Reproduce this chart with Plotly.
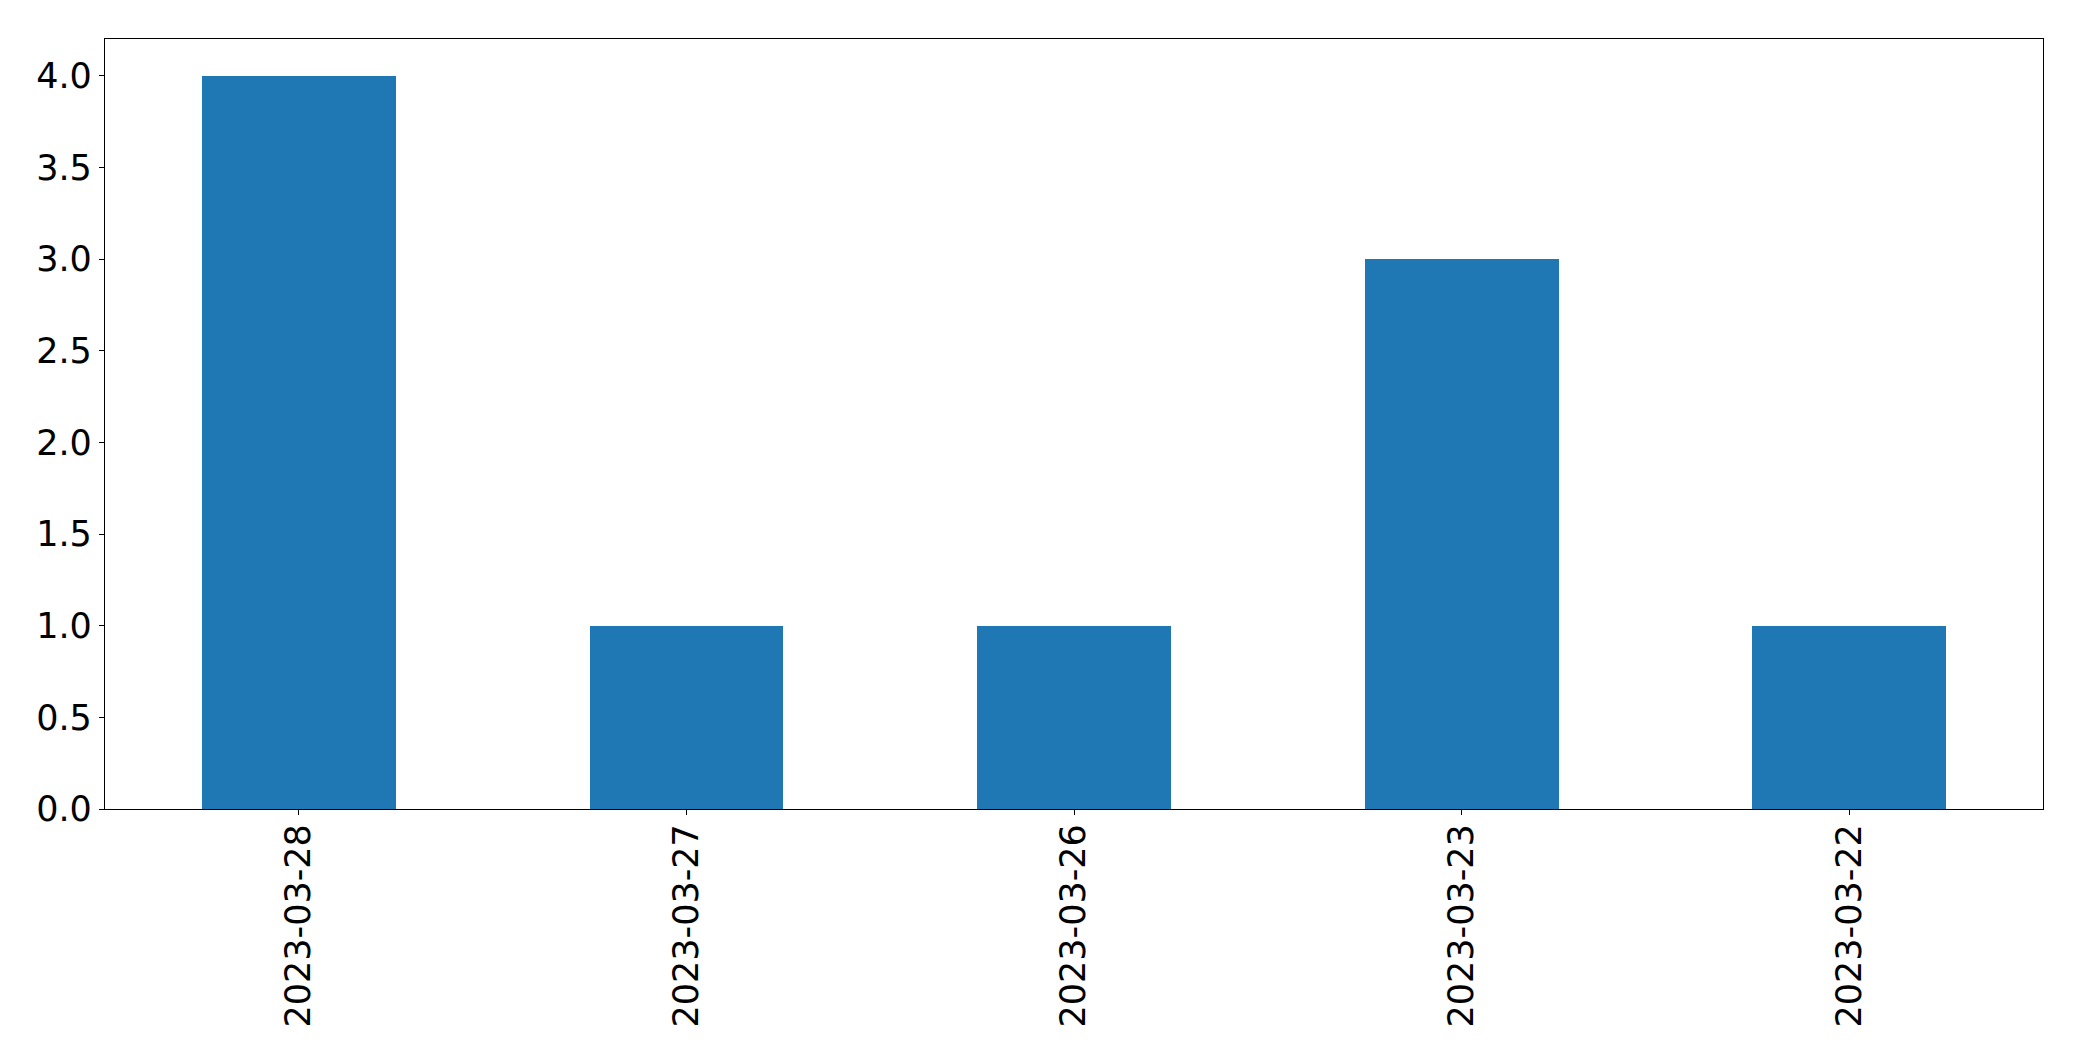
import plotly.graph_objects as go

categories = ["2023-03-28", "2023-03-27", "2023-03-26", "2023-03-23", "2023-03-22"]
values = [4, 1, 1, 3, 1]
y_ticks = [0.0, 0.5, 1.0, 1.5, 2.0, 2.5, 3.0, 3.5, 4.0]

fig = go.Figure(go.Bar(
    x=categories, y=values, width=0.5,
    marker=dict(color="#1f77b4", line=dict(width=0)),
))

fig.update_layout(
    width=2074, height=1053,
    margin=dict(l=97, r=39, t=31, b=252, pad=0),
    paper_bgcolor="white", plot_bgcolor="white",
    font=dict(family="DejaVu Sans", size=35, color="black"),
    showlegend=False,
    bargap=0,
)
fig.update_xaxes(
    type="category", range=[-0.5, 4.5], tickangle=-90,
    showline=True, linecolor="black", linewidth=1.3, mirror=True,
    ticks="outside", ticklen=5, tickwidth=1.3, tickcolor="black",
    ticklabelstandoff=-5,
    showgrid=False, zeroline=False,
)
fig.update_yaxes(
    range=[0, 4.2], tickvals=y_ticks, ticktext=[f"{v:.1f}" for v in y_ticks],
    showline=True, linecolor="black", linewidth=1.3, mirror=True,
    ticks="outside", ticklen=5, tickwidth=1.3, tickcolor="black",
    showgrid=False, zeroline=False,
)

fig.write_html("out.html")
